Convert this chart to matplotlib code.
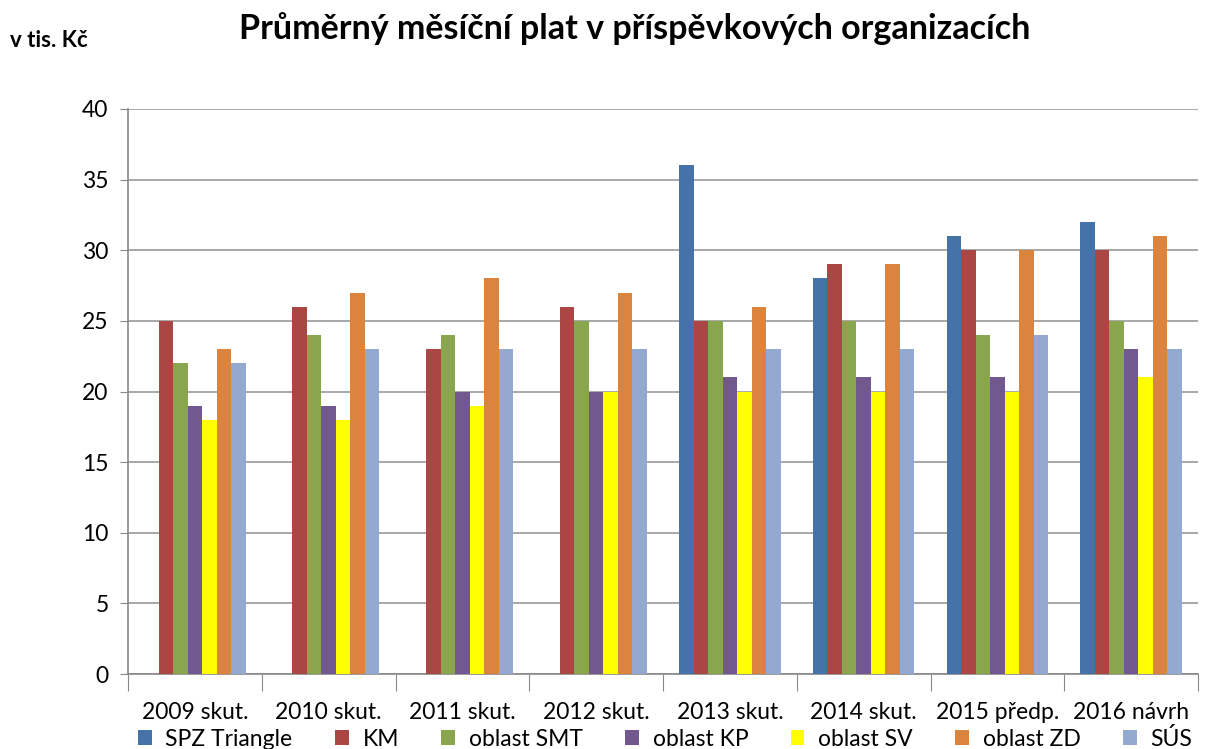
import matplotlib
matplotlib.use("Agg")
import matplotlib.pyplot as plt
import numpy as np

categories = ["2009 skut.", "2010 skut.", "2011 skut.", "2012 skut.",
              "2013 skut.", "2014 skut.", "2015 předp.", "2016 návrh"]
series_names = ["SPZ Triangle", "KM", "oblast SMT", "oblast KP",
                "oblast SV", "oblast ZD", "SÚS"]
spz_triangle = [0, 0, 0, 0, 36, 28, 31, 32]
km = [25, 26, 23, 26, 25, 29, 30, 30]
oblast_smt = [22, 24, 24, 25, 25, 25, 24, 25]
oblast_kp = [19, 19, 20, 20, 21, 21, 21, 23]
oblast_sv = [18, 18, 19, 20, 20, 20, 20, 21]
oblast_zd = [23, 27, 28, 27, 26, 29, 30, 31]
sus = [22, 23, 23, 23, 23, 23, 24, 23]
colors = ["#4572A7", "#AA4643", "#89A54E", "#71588F",
          "#FFFF00", "#DB843D", "#93A9CF"]

plt.rcParams["font.family"] = ["Lato", "DejaVu Sans"]

fig = plt.figure(figsize=(12.26, 7.49), dpi=100)
ax = fig.add_axes([0.1044, 0.1001, 0.8728, 0.7544])

series = [spz_triangle, km, oblast_smt, oblast_kp, oblast_sv, oblast_zd, sus]
n = len(series)
x = np.arange(len(categories))
width = 0.76 / n
for i, (name, vals, col) in enumerate(zip(series_names, series, colors)):
    ax.bar(x + (i - (n - 1) / 2) * width, vals, width, color=col,
           label=name, zorder=3, linewidth=0)

ax.set_xlim(-0.5, len(categories) - 0.5)
ax.set_ylim(0, 40)
ax.set_yticks(range(0, 41, 5))
ax.yaxis.grid(True, color="#9a9a9a", linewidth=1.2, zorder=0)
ax.set_xticks(np.arange(-0.5, len(categories), 1))
ax.set_xticklabels([])
ax.set_xticks(x, minor=True)
ax.set_xticklabels(categories, minor=True, fontsize=16.5)
ax.tick_params(axis="x", which="minor", length=0, pad=20)
ax.tick_params(axis="x", which="major", length=12, color="#888888", direction="out")
ax.tick_params(axis="y", length=6, color="#888888", labelsize=16.5, pad=8)
for s in ["top", "right"]:
    ax.spines[s].set_visible(False)
for s in ["left", "bottom"]:
    ax.spines[s].set_color("#888888")
    ax.spines[s].set_linewidth(1.2)

fig.text(0.518, 0.962, "Průměrný měsíční plat v příspěvkových organizacích",
         ha="center", va="center", fontsize=24.5, fontweight="bold")
fig.text(0.008, 0.946, "v tis. Kč", ha="left", va="center",
         fontsize=16, fontweight="bold")

fig.legend(loc="lower left", bbox_to_anchor=(0.105, -0.013, 0.875, 0.05),
           mode="expand", ncol=7, frameon=False, fontsize=16.5,
           handlelength=0.6, handleheight=0.6, handletextpad=0.6,
           borderaxespad=0)

fig.savefig("out.png", dpi=100)
